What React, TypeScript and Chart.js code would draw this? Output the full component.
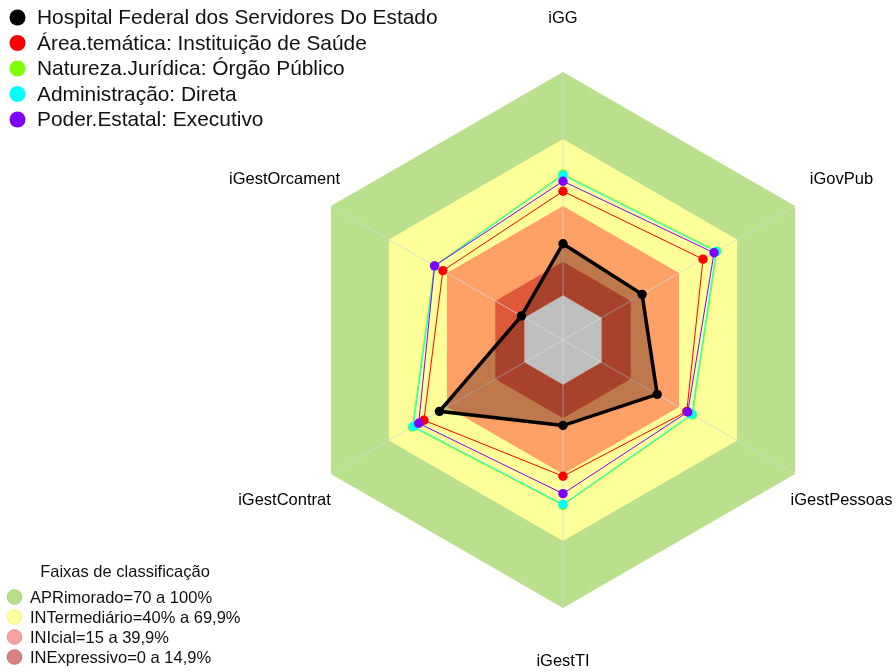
import { useEffect, useRef } from 'react';
import { Chart, registerables } from 'chart.js';

Chart.register(...registerables);

const categories = ['iGG', 'iGovPub', 'iGestPessoas', 'iGestTI', 'iGestContrat', 'iGestOrcament'];

const seriesNames = [
  'Hospital Federal dos Servidores Do Estado',
  'Área.temática: Instituição de Saúde',
  'Natureza.Jurídica: Órgão Público',
  'Administração: Direta',
  'Poder.Estatal: Executivo',
];
const seriesColors = ['#000000', '#FF0000', '#80FF00', '#00FFFF', '#8000FF'];

const hospital = [23.1, 20.9, 28.7, 18.3, 43.9, 1.5];
const areaTematica = [46.6, 52.4, 44.0, 41.0, 51.9, 42.1];
const naturezaJuridica = [54.3, 59.6, 47.0, 54.0, 57.9, 46.5];
const administracao = [53.8, 59.2, 46.6, 53.6, 57.4, 46.2];
const poderEstatal = [51.1, 58.1, 44.5, 48.8, 54.6, 46.4];

const scaleMin = -20;
const scaleMax = 100;

const bandLimits = [100, 70, 40, 15, 0];
const bandColors = ['#BAE08E', '#FFFF99', '#FFA066', '#E0583A', '#BEBEBE'];

const bandLegendTitle = 'Faixas de classificação';
const bandLegendLabels = [
  'APRimorado=70 a 100%',
  'INTermediário=40% a 69,9%',
  'INIcial=15 a 39,9%',
  'INExpressivo=0 a 14,9%',
];
const bandLegendFill = ['#B6DF8C', '#FFFF9C', '#F8A0A0', '#D98080'];
const bandLegendStroke = ['#A3D478', '#F2F28A', '#EE9090', '#C86C6C'];

const FONT = '"Liberation Sans", Arial, Helvetica, sans-serif';

const bandsPlugin = {
  id: 'bands',
  beforeDraw(chart: any) {
    const scale = chart.scales.r;
    const ctx = chart.ctx;
    ctx.save();
    bandLimits.forEach((v, k) => {
      ctx.beginPath();
      categories.forEach((_, i) => {
        const p = scale.getPointPositionForValue(i, v);
        if (i === 0) ctx.moveTo(p.x, p.y);
        else ctx.lineTo(p.x, p.y);
      });
      ctx.closePath();
      ctx.fillStyle = bandColors[k];
      ctx.fill();
    });
    ctx.restore();
  },
};

const textPlugin = {
  id: 'texts',
  afterDraw(chart: any) {
    const scale = chart.scales.r;
    const ctx = chart.ctx;
    ctx.save();
    // axis labels
    ctx.font = `16.5px ${FONT}`;
    ctx.fillStyle = '#000';
    ctx.textAlign = 'center';
    ctx.textBaseline = 'middle';
    const dist = scale.drawingArea * 1.2;
    categories.forEach((c, i) => {
      const p = scale.getPointPosition(i, dist);
      ctx.fillText(c, p.x, p.y);
    });

    // series legend
    ctx.textAlign = 'left';
    ctx.font = `20.9px ${FONT}`;
    seriesNames.forEach((name, i) => {
      const y = 17.5 + i * 25.5;
      ctx.beginPath();
      ctx.arc(17.5, y, 8, 0, Math.PI * 2);
      ctx.fillStyle = seriesColors[i];
      ctx.fill();
      ctx.fillStyle = '#111';
      ctx.fillText(name, 37, y + 1);
    });

    // band legend
    ctx.font = `16.5px ${FONT}`;
    ctx.textAlign = 'center';
    ctx.fillStyle = '#111';
    ctx.fillText(bandLegendTitle, 125, 572);
    ctx.textAlign = 'left';
    bandLegendLabels.forEach((label, i) => {
      const y = 597 + i * 20;
      ctx.beginPath();
      ctx.arc(14.5, y, 7.3, 0, Math.PI * 2);
      ctx.fillStyle = bandLegendFill[i];
      ctx.fill();
      ctx.lineWidth = 1;
      ctx.strokeStyle = bandLegendStroke[i];
      ctx.stroke();
      ctx.fillStyle = '#111';
      ctx.fillText(label, 30, y + 1);
    });
    ctx.restore();
  },
};

export default function App() {
  const canvasRef = useRef<HTMLCanvasElement | null>(null);

  useEffect(() => {
    if (!canvasRef.current) return;
    const allSeries = [hospital, areaTematica, naturezaJuridica, administracao, poderEstatal];
    const datasets = allSeries.map((data, i) => {
      const isMain = i === 0;
      return {
        label: seriesNames[i],
        data,
        borderColor: seriesColors[i],
        borderWidth: isMain ? 3.5 : 1,
        backgroundColor: isMain ? 'rgba(0,0,0,0.25)' : 'transparent',
        fill: isMain ? { value: 0 } : false,
        pointRadius: 4.7,
        pointBorderWidth: 0,
        pointBackgroundColor: seriesColors[i],
        pointHoverRadius: 4.7,
        tension: 0,
        order: 5 - i,
      };
    });

    const chart = new Chart(canvasRef.current, {
      type: 'radar',
      data: { labels: categories, datasets: datasets as any },
      options: {
        responsive: true,
        maintainAspectRatio: false,
        animation: false,
        events: [],
        layout: { padding: { left: 295, right: 65, top: 72, bottom: 64 } },
        plugins: {
          legend: { display: false },
          tooltip: { enabled: false },
          title: { display: false },
        },
        scales: {
          r: {
            min: scaleMin,
            max: scaleMax,
            startAngle: 0,
            ticks: { display: false, stepSize: 20 },
            grid: { display: false },
            angleLines: { display: true, color: 'rgba(215,215,215,0.75)', lineWidth: 1 },
            pointLabels: { display: false },
          },
        },
      } as any,
      plugins: [bandsPlugin, textPlugin],
    });
    return () => chart.destroy();
  }, []);

  return (
    <div style={{ position: 'fixed', left: 0, top: 0, width: 896, height: 672, background: '#fff' }}>
      <canvas ref={canvasRef} />
    </div>
  );
}
